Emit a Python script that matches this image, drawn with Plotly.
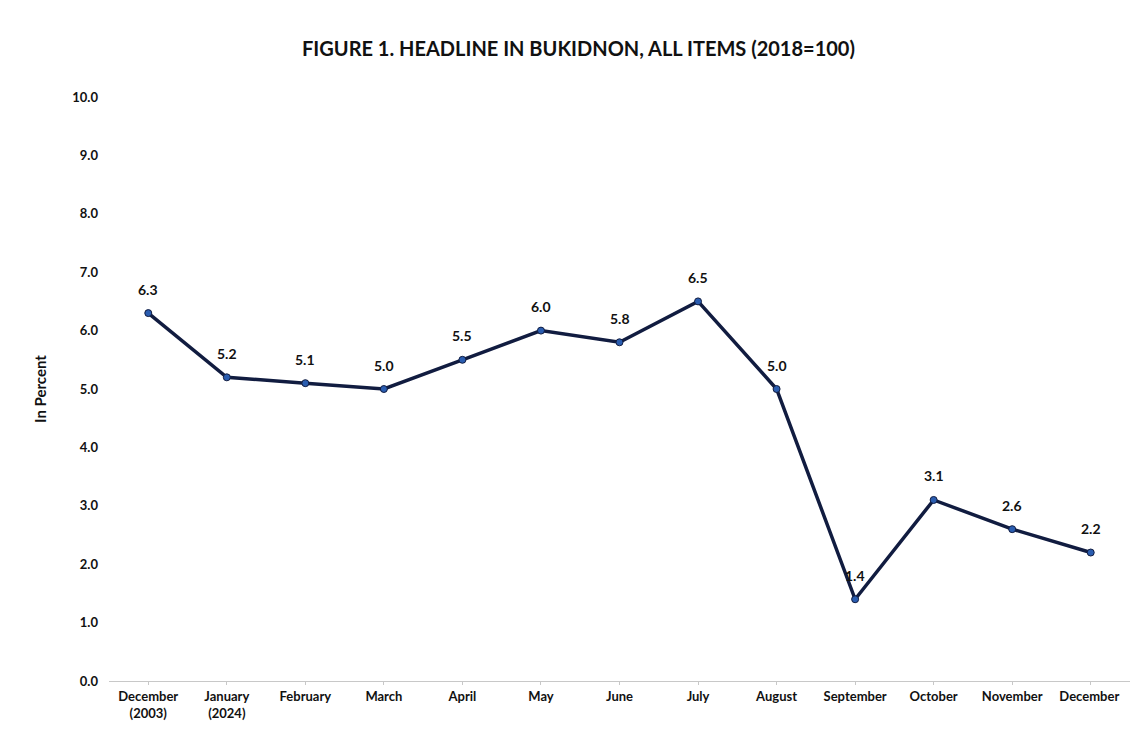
import plotly.graph_objects as go

months = ["December<br>(2003)", "January<br>(2024)", "February", "March", "April", "May",
          "June", "July", "August", "September", "October", "November", "December "]
inflation = [6.3, 5.2, 5.1, 5.0, 5.5, 6.0, 5.8, 6.5, 5.0, 1.4, 3.1, 2.6, 2.2]
y_ticks = [0, 1, 2, 3, 4, 5, 6, 7, 8, 9, 10]

FONT = "Lato, Roboto, Noto Sans, sans-serif"
xs = list(range(len(months)))

fig = go.Figure()
fig.add_trace(go.Scatter(
    x=xs, y=inflation,
    mode="lines+markers",
    line=dict(color="#111c40", width=3.5),
    marker=dict(color="#2a5db0", size=7, line=dict(color="#111c40", width=1)),
    hoverinfo="skip",
))
for xi, v in zip(xs, inflation):
    fig.add_annotation(x=xi, y=v, text=f"<b>{v:.1f}</b>", showarrow=False,
                       yshift=24, font=dict(family=FONT, size=14, color="#111111"))

fig.update_layout(
    width=1141, height=740,
    paper_bgcolor="white", plot_bgcolor="white",
    margin=dict(l=101, r=19, t=89, b=67),
    showlegend=False,
    title=dict(text="<b>FIGURE 1. HEADLINE IN BUKIDNON, ALL ITEMS (2018=100)</b>",
               x=0.5, xanchor="center", y=0.945, yanchor="middle",
               font=dict(family=FONT, size=20, color="#111111")),
    font=dict(family=FONT, color="#111111"),
)
fig.update_xaxes(
    tickmode="array", tickvals=xs,
    ticktext=[f"<b>{m}</b>" for m in months],
    range=[-0.5, len(months) - 0.5],
    showgrid=False, zeroline=False,
    showline=True, linecolor="#c8c8c8", linewidth=1,
    ticks="outside", ticklen=3, tickcolor="#c8c8c8",
    tickfont=dict(family=FONT, size=13, color="#111111"),
)
fig.update_yaxes(
    range=[0, 10], tickvals=y_ticks,
    ticktext=[f"<b>{v:.1f}</b>" for v in y_ticks],
    showgrid=False, zeroline=False, showline=False,
    ticks="", ticklabelstandoff=10,
    tickfont=dict(family=FONT, size=13, color="#111111"),
    title=dict(text="<b>In Percent</b>", font=dict(family=FONT, size=15, color="#111111"), standoff=22),
)

fig.write_html("out.html")
